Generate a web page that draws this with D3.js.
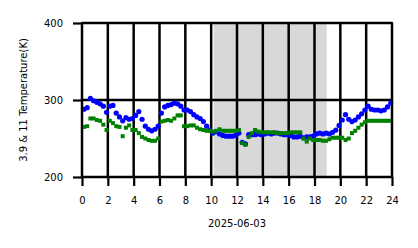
<!DOCTYPE html>
<html><head><meta charset="utf-8">
<script src="https://cdn.jsdelivr.net/npm/d3@7"></script>
<style>body{margin:0;background:#fff}svg{display:block}text{font-family:"DejaVu Sans",sans-serif;fill:#000}</style>
</head><body>
<script>
const startHour = 0.15, stepHour = 0.25;
const blueValues = [288,290,302,299,297,295,292,284,292,293,283,278,273,277,275,276,280,285,275,266,262,260,262,266,
283,291,293,294,296,295,292,287,287,285,281,278,276,272,266,261,257,259,256,254,253,253,253,254,
257,245,243,255,255,255,256,255,256,257,256,257,257,256,255,255,254,252,252,253,251,252,252,253,
256,257,256,257,256,258,261,267,274,281,275,272,274,278,282,287,292,288,287,287,286,287,291,296];
const greenValues = [265,266,276,276,274,273,268,261,273,270,266,265,253,264,267,261,261,257,252,250,248,247,247,250,
272,273,274,273,276,280,280,266,266,267,267,264,262,261,260,260,259,260,262,260,260,260,260,260,
261,244,242,252,257,261,259,258,258,258,258,258,257,257,257,257,258,258,258,258,250,246,250,248,
248,248,247,247,249,251,251,251,251,248,250,257,260,264,268,271,273,273,273,273,273,273,273,273];
const xTicks = [0,2,4,6,8,10,12,14,16,18,20,22,24];
const yTicks = [200,300,400];
const nightBand = [10.2, 18.95];
const xLabel = "2025-06-03";
const yLabel = "3.9 & 11 Temperature(K)";

const W = 418, H = 248;
const m = {l:82, r:392, t:23, b:177};
const svg = d3.select("body").append("svg").attr("width",W).attr("height",H);
const x = d3.scaleLinear().domain([0,24]).range([m.l,m.r]);
const y = d3.scaleLinear().domain([200,400]).range([m.b,m.t]);

svg.append("rect").attr("x",x(nightBand[0])).attr("y",m.t).attr("width",x(nightBand[1])-x(nightBand[0])).attr("height",m.b-m.t).attr("fill","#d8d8d8");

const blue = blueValues.map((v,i)=>({t:startHour+i*stepHour,v}));
const green = greenValues.map((v,i)=>({t:startHour+i*stepHour,v}));

// grid
svg.append("g").selectAll("line").data(xTicks).join("line")
  .attr("x1",d=>x(d)).attr("x2",d=>x(d)).attr("y1",m.t).attr("y2",m.b)
  .attr("stroke","#000").attr("stroke-width",2.5);
svg.append("g").selectAll("line").data(yTicks).join("line")
  .attr("x1",m.l).attr("x2",m.r).attr("y1",d=>y(d)).attr("y2",d=>y(d))
  .attr("stroke","#000").attr("stroke-width",2.5);

svg.append("g").selectAll("circle").data(blue).join("circle")
  .attr("cx",d=>x(d.t)).attr("cy",d=>y(d.v)).attr("r",2.6).attr("fill","#0000ff");
svg.append("g").selectAll("rect").data(green).join("rect")
  .attr("x",d=>x(d.t)-2).attr("y",d=>y(d.v)-2).attr("width",4).attr("height",4).attr("fill","#008000");

svg.append("rect").attr("x",m.l).attr("y",m.t).attr("width",m.r-m.l).attr("height",m.b-m.t)
  .attr("fill","none").attr("stroke","#000").attr("stroke-width",2);

const xa = svg.append("g").attr("transform",`translate(0,${m.b})`)
  .call(d3.axisBottom(x).tickValues(xTicks).tickFormat(d3.format("d")).tickSize(9).tickPadding(11));
const ya = svg.append("g").attr("transform",`translate(${m.l},0)`)
  .call(d3.axisLeft(y).tickValues(yTicks).tickFormat(d3.format("d")).tickSize(9).tickPadding(10));
[xa,ya].forEach(a=>{
  a.select(".domain").remove();
  a.selectAll(".tick line").attr("stroke","#000").attr("stroke-width",2.2);
  a.selectAll("text").attr("font-size",10).attr("font-family","DejaVu Sans");
});

svg.append("text").attr("x",(m.l+m.r)/2).attr("y",227).attr("text-anchor","middle").attr("font-size",10).text(xLabel);
svg.append("text").attr("transform","translate(27,100) rotate(-90)").attr("text-anchor","middle").attr("font-size",10).text(yLabel);
</script>
</body></html>
